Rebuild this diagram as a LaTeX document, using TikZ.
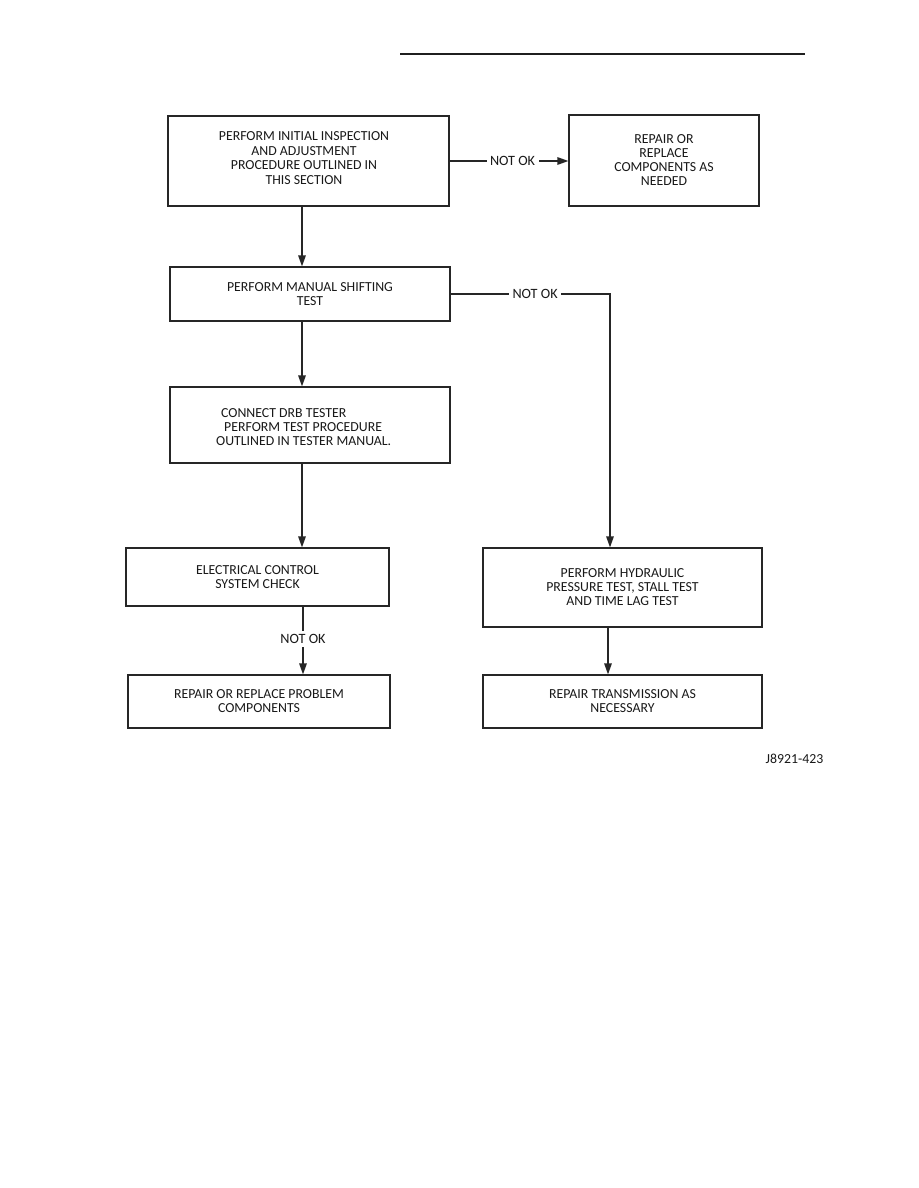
\documentclass[tikz,border=0pt]{standalone}
\usepackage{fontspec}
\setmainfont{Carlito}
\usetikzlibrary{arrows.meta}
\tikzset{
  box/.style={draw=black!85, line width=1.2pt, rectangle, inner sep=0pt, align=center,
    font=\fontsize{13.8}{14}\selectfont, text=black!90},
  txt/.style={inner sep=0pt, font=\fontsize{13.8}{14.4}\selectfont, text=black!90},
  lbl/.style={fill=white, inner sep=3.5pt, font=\fontsize{14.2}{14.4}\selectfont, text=black!90},
  link/.style={draw=black!85, line width=1.3pt},
  arr/.style={link, -{Triangle[length=11pt,width=7.5pt]}},
}
\begin{document}
\begin{tikzpicture}[x=1pt,y=-1pt]
\useasboundingbox[fill=white] (0,0) rectangle (918,1188);
% top rule
\coordinate (r1) at (400,54);
\coordinate (r2) at (805,54);
\draw[line width=2.4pt, black!88] (r1) -- (r2);
% column coordinates
\coordinate (col) at (302,0);
\coordinate (col2) at (608,0);
\coordinate (c1) at (610,294);
% boxes
\node[box, minimum width=281pt, minimum height=90pt] (b1) at (308.5,161) {};
\node[txt, align=center] (b1t) at (304,158)
  {PERFORM INITIAL INSPECTION\\AND ADJUSTMENT\\PROCEDURE OUTLINED IN\\THIS SECTION};
\node[box, minimum width=190pt, minimum height=91pt] (b2) at (664,160.5)
  {REPAIR OR\\REPLACE\\COMPONENTS AS\\NEEDED};
\node[box, minimum width=280pt, minimum height=54pt] (b3) at (310,294)
  {PERFORM MANUAL SHIFTING\\TEST};
\node[box, minimum width=280pt, minimum height=76pt] (b4) at (310,425) {};
\node[txt, anchor=west, align=left] (b4t) at (216,427)
  {\hspace*{5pt}CONNECT DRB TESTER\\\hspace*{8pt}PERFORM TEST PROCEDURE\\OUTLINED IN TESTER MANUAL.};
\node[box, minimum width=263pt, minimum height=58pt] (b5) at (257.5,577)
  {ELECTRICAL CONTROL\\SYSTEM CHECK};
\node[box, minimum width=279pt, minimum height=79pt] (b6) at (622.5,587.5)
  {PERFORM HYDRAULIC\\PRESSURE TEST, STALL TEST\\AND TIME LAG TEST};
\node[box, minimum width=262pt, minimum height=53pt] (b7) at (259,701.5)
  {REPAIR OR REPLACE PROBLEM\\COMPONENTS};
\node[box, minimum width=279pt, minimum height=53pt] (b8) at (622.5,701.5)
  {REPAIR TRANSMISSION AS\\NECESSARY};
% connectors
\draw[arr] (b1.east) -- node[lbl, pos=0.53] {NOT OK} (b1.east -| b2.west);
\draw[arr] (b1.south -| col) -- (b3.north -| col);
\draw[arr] (b3.east) -- node[lbl, pos=0.53] {NOT OK} (c1) -- (c1 |- b6.north);
\draw[arr] (b3.south -| col) -- (b4.north -| col);
\draw[arr] (b4.south -| col) -- (b5.north -| col);
\draw[arr] ([xshift=1pt]b5.south -| col) -- node[lbl, pos=0.48] {NOT OK} ([xshift=1pt]b7.north -| col);
\draw[arr] (b6.south -| col2) -- (b8.north -| col2);
% figure id
\node[txt] (fid) at (794.5,759) {J8921-423};
\end{tikzpicture}
\end{document}
